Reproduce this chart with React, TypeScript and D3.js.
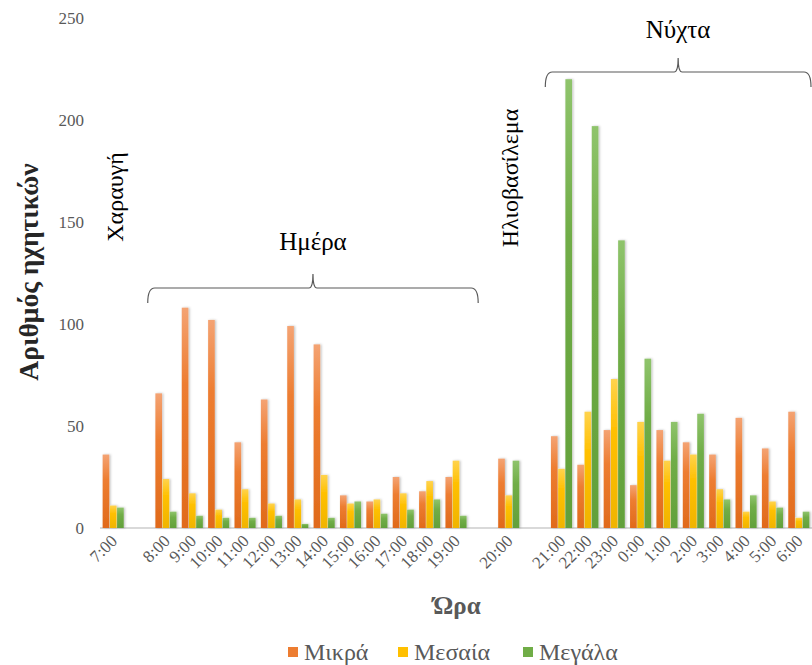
import React from 'react';
import * as d3 from 'd3';

const hours = ['7:00', 'gap1', '8:00', '9:00', '10:00', '11:00', '12:00', '13:00', '14:00', '15:00', '16:00', '17:00', '18:00', '19:00', 'gap2', '20:00', 'gap3', '21:00', '22:00', '23:00', '0:00', '1:00', '2:00', '3:00', '4:00', '5:00', '6:00'];
const series = ['Μικρά', 'Μεσαία', 'Μεγάλα'];
// null = empty spacer category
const mikra = [36, null, 66, 108, 102, 42, 63, 99, 90, 16, 13, 25, 18, 25, null, 34, null, 45, 31, 48, 21, 48, 42, 36, 54, 39, 57];
const mesaia = [11, null, 24, 17, 9, 19, 12, 14, 26, 12, 14, 17, 23, 33, null, 16, null, 29, 57, 73, 52, 33, 36, 19, 8, 13, 5];
const megala = [10, null, 8, 6, 5, 5, 6, 2, 5, 13, 7, 9, 14, 6, null, 33, null, 220, 197, 141, 83, 52, 56, 14, 16, 10, 8];
const yTicks = [0, 50, 100, 150, 200, 250];
const colors = ['#ED7D31', '#FFC000', '#70AD47'];
const lightColors = ['#F4A373', '#FFD34D', '#8FC46C'];
const darkColors = ['#E06A1B', '#F0B400', '#62A03A'];

const W = 812;
const H = 665;
const margin = { top: 18, right: 0, bottom: 137, left: 100 };
const FONT = 'Liberation Serif';

export default function App() {
  const x = d3.scaleBand<string>().domain(hours).range([margin.left, W - margin.right]).paddingInner(0.2).paddingOuter(0.1);
  const xs = d3.scaleBand<string>().domain(series).range([0, x.bandwidth()]).paddingInner(0.08);
  const y = d3.scaleLinear().domain([0, 250]).range([H - margin.bottom, margin.top]);
  const step = x.step();
  const bandStart = (h: string) => margin.left + hours.indexOf(h) * step;
  const data = [mikra, mesaia, megala];

  const brace = (x1: number, x2: number, yy: number, tipX: number) =>
    `M${x1},${yy + 15} Q${x1},${yy} ${x1 + 7},${yy} L${tipX - 4},${yy} Q${tipX},${yy} ${tipX},${yy - 14} Q${tipX},${yy} ${tipX + 4},${yy} L${x2 - 7},${yy} Q${x2},${yy} ${x2},${yy + 15}`;

  const dayX1 = bandStart('8:00') - 5;
  const dayX2 = bandStart('19:00') + step + 9;
  const nightX1 = bandStart('21:00') - 3;
  const nightX2 = W - 1;

  const cx = (h: string) => (x(h) as number) + x.bandwidth() / 2;

  return (
    <div style={{ position: 'absolute', left: 0, top: 0 }}>
      <svg width={W} height={H} fontFamily={FONT} style={{ background: '#fff' }}>
        <defs>
          {colors.map((c, i) => (
            <linearGradient key={i} id={`g${i}`} x1="0" y1="0" x2="0" y2="1">
              <stop offset="0%" stopColor={lightColors[i]} />
              <stop offset="35%" stopColor={c} />
              <stop offset="100%" stopColor={darkColors[i]} />
            </linearGradient>
          ))}
          <filter id="sh" x="-50%" y="-10%" width="200%" height="130%">
            <feDropShadow dx="1.2" dy="0" stdDeviation="1" floodColor="#000" floodOpacity="0.25" />
          </filter>
        </defs>

        {/* y tick labels */}
        {yTicks.map(t => (
          <text key={t} x={84} y={y(t)} dy="0.35em" textAnchor="end" fontSize={17} fill="#595959">{t}</text>
        ))}

        {/* baseline */}
        <line x1={margin.left} x2={W} y1={y(0)} y2={y(0)} stroke="#D9D9D9" strokeWidth={2} />

        {/* bars */}
        <g filter="url(#sh)">
          {data.map((vals, si) =>
            hours.map((h, i) => {
              const v = vals[i];
              if (v == null) return null;
              return (
                <rect key={`${si}-${h}`} x={(x(h) as number) + (xs(series[si]) as number)} y={y(v)}
                  width={xs.bandwidth()} height={y(0) - y(v)} fill={`url(#g${si})`} />
              );
            })
          )}
        </g>

        {/* x tick labels */}
        {hours.filter(h => !h.startsWith('gap')).map(h => (
          <text key={h} transform={`translate(${cx(h) + 5},${y(0) + 14}) rotate(-45)`} textAnchor="end"
            fontSize={17} fill="#595959">{h}</text>
        ))}

        {/* annotations */}
        <text transform={`translate(${cx('7:00') + 1},197) rotate(-90)`} textAnchor="middle" dy="0.35em" fontSize={24} fill="#000">Χαραυγή</text>
        <text transform={`translate(${cx('20:00') + 1},178) rotate(-90)`} textAnchor="middle" dy="0.35em" fontSize={24} fill="#000">Ηλιοβασίλεμα</text>
        <text x={(dayX1 + dayX2) / 2} y={250} textAnchor="middle" fontSize={25} fill="#000">Ημέρα</text>
        <path d={brace(dayX1, dayX2, 288, (dayX1 + dayX2) / 2)} fill="none" stroke="#595959" strokeWidth={1.2} />
        <text x={(nightX1 + nightX2) / 2} y={38} textAnchor="middle" fontSize={25} fill="#000">Νύχτα</text>
        <path d={brace(nightX1, nightX2, 72, (nightX1 + nightX2) / 2)} fill="none" stroke="#595959" strokeWidth={1.2} />

        {/* axis titles */}
        <text transform={`translate(28,${272}) rotate(-90)`} textAnchor="middle" dy="0.35em" fontSize={27.5} fontWeight="bold" fill="#262626">Αριθμός ηχητικών</text>
        <text x={457} y={614} textAnchor="middle" fontSize={25} fontWeight="bold" fill="#595959">Ώρα</text>

        {/* legend */}
        {series.map((s, i) => {
          const lx = [288, 398, 523][i];
          return (
            <g key={s}>
              <rect x={lx} y={647} width={10} height={10} fill={colors[i]} />
              <text x={lx + 16} y={660} fontSize={24} fill="#595959">{s}</text>
            </g>
          );
        })}
      </svg>
    </div>
  );
}
